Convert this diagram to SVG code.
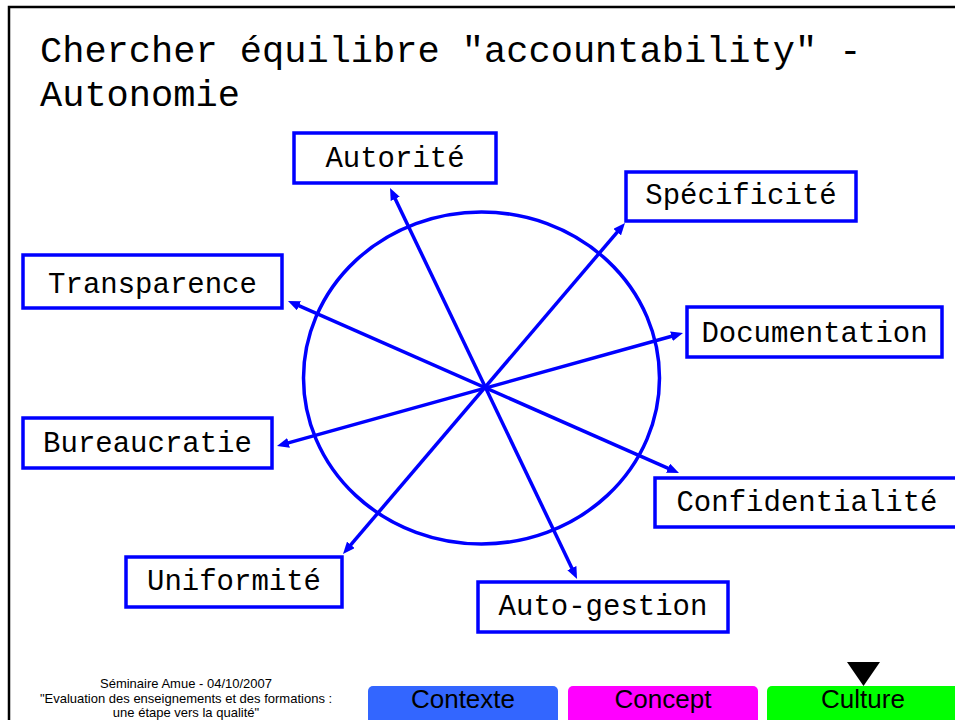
<svg xmlns="http://www.w3.org/2000/svg" width="955" height="720" viewBox="0 0 955 720">
<style>
.box{fill:#fff;stroke:#0000FF;stroke-width:3.5}
.lbl{font-family:"Courier New","Nimbus Mono PS",FreeMono,"Liberation Mono",monospace;font-size:29px;fill:#000;text-anchor:middle}
.title{font-family:"Courier New","Nimbus Mono PS",FreeMono,"Liberation Mono",monospace;font-size:37px;fill:#000}
.conn{stroke:#0000FF;stroke-width:3.5;fill:none;marker-start:url(#ah);marker-end:url(#ah)}
.foot{font-family:"Liberation Sans",Arial,sans-serif;font-size:13px;fill:#000;text-anchor:middle}
.btn{font-family:"Liberation Sans",Arial,sans-serif;font-size:26px;fill:#000;text-anchor:middle}
</style>
<defs>
<marker id="ah" viewBox="0 0 12 10" refX="4" refY="5" markerWidth="12" markerHeight="10" markerUnits="userSpaceOnUse" orient="auto-start-reverse">
<path d="M0,0 L12,5 L0,10 z" fill="#0000FF"/>
</marker>
</defs>
<rect width="955" height="720" fill="#fff"/>
<path d="M9,725 V7 H960" fill="none" stroke="#000" stroke-width="2.5"/>
<g id="title">
<text class="title" x="40" y="62">Chercher équilibre "accountability" -</text>
<text class="title" x="40" y="106">Autonomie</text>
</g>
<ellipse id="circle" cx="481.5" cy="378" rx="178" ry="166" fill="none" stroke="#0000FF" stroke-width="3.5"/>
<g id="connectors">
<line class="conn" x1="393.5" y1="195.2" x2="573.6" y2="571.8"/>
<line class="conn" x1="619.8" y1="229.1" x2="348.2" y2="547.9"/>
<line class="conn" x1="675.3" y1="335.2" x2="284.7" y2="443.9"/>
<line class="conn" x1="671.7" y1="469.8" x2="295.3" y2="304.2"/>
</g>
<g id="autorite"><rect class="box" x="294" y="133" width="202" height="50"/><text class="lbl" x="395" y="167">Autorité</text></g>
<g id="specificite"><rect class="box" x="626" y="172" width="230" height="49"/><text class="lbl" x="741" y="204">Spécificité</text></g>
<g id="documentation"><rect class="box" x="687" y="307" width="255" height="50"/><text class="lbl" x="814.5" y="341.5">Documentation</text></g>
<g id="confidentialite"><rect class="box" x="655" y="478" width="310" height="49"/><text class="lbl" x="807" y="510.5">Confidentialité</text></g>
<g id="transparence"><rect class="box" x="23" y="255" width="259" height="53"/><text class="lbl" x="152.5" y="292.5">Transparence</text></g>
<g id="bureaucratie"><rect class="box" x="23" y="418" width="249" height="50"/><text class="lbl" x="147.5" y="451.5">Bureaucratie</text></g>
<g id="uniformite"><rect class="box" x="126" y="557" width="216" height="50"/><text class="lbl" x="234" y="590">Uniformité</text></g>
<g id="autogestion"><rect class="box" x="478" y="582" width="250" height="50"/><text class="lbl" x="603" y="615">Auto-gestion</text></g>
<g id="footer">
<text class="foot" x="186" y="688">Séminaire Amue  - 04/10/2007</text>
<text class="foot" x="186" y="703">"Evaluation des enseignements et des formations :</text>
<text class="foot" x="186" y="717">une étape vers la qualité"</text>
</g>
<g id="btn-contexte"><rect x="368" y="686" width="190" height="40" rx="5" fill="#3366FF"/><text class="btn" x="463" y="708">Contexte</text></g>
<g id="btn-concept"><rect x="568" y="686" width="190" height="40" rx="5" fill="#FF00FF"/><text class="btn" x="663" y="708">Concept</text></g>
<g id="btn-culture"><rect x="767" y="686" width="195" height="40" rx="5" fill="#00FF00"/><text class="btn" x="863" y="708">Culture</text></g>
<path id="marker-tri" d="M847,662 L880,662 L863.5,686 z" fill="#000"/>
</svg>
